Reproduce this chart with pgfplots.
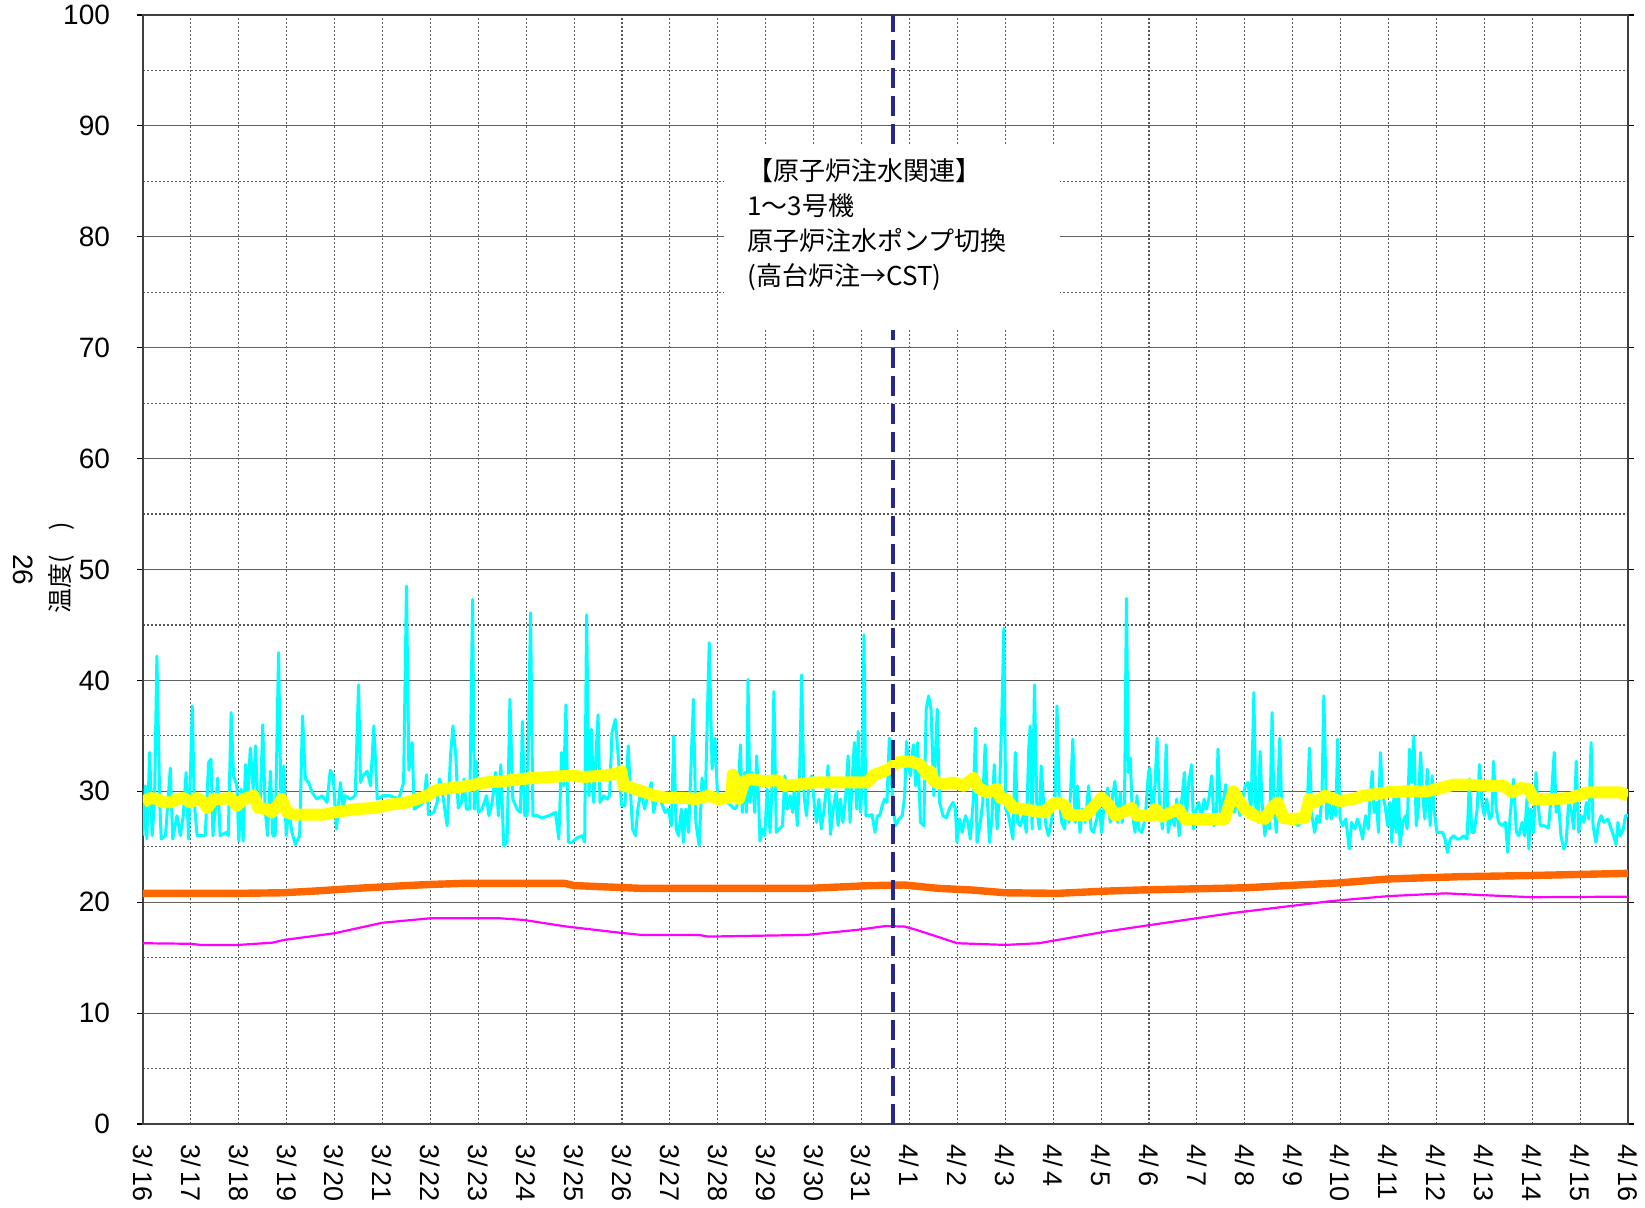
\documentclass[border=0pt]{standalone}
\usepackage{fontspec}
\setmainfont{Liberation Sans}
\newfontfamily\cjk{Noto Sans CJK JP}
\usepackage{pgfplots}
\pgfplotsset{compat=1.18}
\definecolor{cyanL}{RGB}{0,255,255}
\definecolor{yel}{RGB}{255,255,0}
\definecolor{ora}{RGB}{255,102,0}
\definecolor{mag}{RGB}{255,0,255}
\definecolor{navyD}{RGB}{40,40,140}
\begin{document}
\begin{tikzpicture}
\useasboundingbox (0,0) rectangle (822.5pt,603.5pt);
\begin{axis}[
 at={(71.5pt,41.5pt)}, anchor=south west,
 scale only axis, width=742.5pt, height=554.5pt,
 xmin=0,xmax=31,ymin=0,ymax=100,
 xtick={0,...,31},
 xticklabels={3/\,16,3/\,17,3/\,18,3/\,19,3/\,20,3/\,21,3/\,22,3/\,23,3/\,24,3/\,25,3/\,26,3/\,27,3/\,28,3/\,29,3/\,30,3/\,31,4/\,1,4/\,2,4/\,3,4/\,4,4/\,5,4/\,6,4/\,7,4/\,8,4/\,9,4/\,10,4/\,11,4/\,12,4/\,13,4/\,14,4/\,15,4/\,16},
 minor xtick={1,...,30},
 ytick={0,10,...,100},
 minor ytick={5,15,...,95},
 ymajorgrids, yminorgrids, xminorgrids,
 major grid style={black!62, line width=0.6pt},
 minor grid style={black!65, line width=0.55pt, dash pattern=on 1pt off 1pt},
 axis line style={black!75, line width=0.8pt},
 tick align=outside,
 xtick style={draw=none},
 ytick style={black, line width=0.6pt},
 major tick length=3pt,
 minor tick length=0pt,
 /pgf/number format/assume math mode=true,
 yticklabel style={font=\fontsize{14}{14}\selectfont},
 yticklabel shift=10pt,
 xticklabel style={font=\fontsize{13.5}{13.5}\selectfont, rotate=-90, anchor=west},
 xticklabel shift=3.5pt,
]
\addplot[cyanL, line width=1.5pt, line join=round] coordinates {
(0,26.0)(0.05,30.5)(0.08,25.7)(0.14,33.5)(0.19,26.0)(0.24,29.0)(0.29,42.2)(0.35,29.0)(0.38,25.7)(0.47,26.0)(0.57,32.1)(0.62,25.7)(0.71,27.8)(0.78,26.0)(0.84,27.8)(0.90,31.7)(0.95,25.7)(1.03,37.7)(1.07,29.0)(1.13,26.0)(1.30,26.0)(1.37,32.6)(1.42,32.9)(1.46,26.0)(1.51,28.4)(1.56,31.2)(1.61,26.0)(1.74,26.3)(1.78,26.0)(1.84,37.1)(1.89,31.4)(1.96,30.5)(2.00,25.5)(2.05,30.2)(2.09,25.5)(2.14,32.4)(2.19,29.6)(2.24,33.9)(2.30,30.2)(2.35,34.1)(2.39,29.3)(2.45,29.0)(2.50,36.0)(2.55,28.4)(2.60,26.0)(2.66,31.8)(2.71,26.0)(2.76,26.0)(2.83,42.5)(2.88,29.0)(2.94,32.3)(2.99,26.0)(3.04,28.4)(3.11,26.3)(3.18,25.2)(3.27,26.0)(3.33,36.8)(3.39,31.1)(3.46,30.8)(3.53,29.9)(3.63,29.3)(3.74,29.6)(3.84,29.0)(3.91,31.9)(3.97,31.4)(4.04,26.6)(4.12,30.8)(4.18,28.4)(4.22,29.6)(4.33,29.3)(4.43,29.6)(4.50,39.6)(4.54,30.8)(4.59,31.4)(4.68,31.8)(4.75,30.5)(4.82,35.9)(4.89,29.3)(5.02,29.6)(5.16,29.6)(5.34,29.3)(5.44,30.8)(5.50,48.5)(5.55,31.9)(5.62,34.4)(5.66,28.4)(5.76,28.7)(5.86,29.0)(5.92,31.5)(5.96,27.9)(6.07,28.1)(6.14,29.0)(6.19,31.1)
(6.22,30.8)(6.28,29.0)(6.35,26.9)(6.42,33.2)(6.47,35.9)(6.53,33.2)(6.58,28.5)(6.65,29.0)(6.70,31.1)(6.75,28.4)(6.82,28.4)(6.88,47.3)(6.92,28.4)(6.96,32.7)(7.00,28.1)(7.08,28.4)(7.17,29.6)(7.22,27.8)(7.29,29.0)(7.36,31.7)(7.42,27.8)(7.47,32.4)(7.53,25.1)(7.60,25.4)(7.66,38.3)(7.72,29.3)(7.81,28.4)(7.88,28.1)(7.92,36.3)(7.97,27.8)(8.02,27.8)(8.09,46.1)(8.14,27.8)(8.23,27.8)(8.33,27.6)(8.47,27.8)(8.61,28.1)(8.68,25.7)(8.74,33.5)(8.78,30.5)(8.83,37.8)(8.88,25.4)(8.96,25.4)(9.06,25.8)(9.17,26.0)(9.22,25.4)(9.26,45.9)(9.31,29.6)(9.36,35.6)(9.41,29.0)(9.46,33.5)(9.50,36.9)(9.54,29.0)(9.62,29.6)(9.69,29.3)(9.74,29.6)(9.79,35.3)(9.86,36.5)(9.92,33.2)(9.99,28.7)(10.06,28.7)(10.13,34.1)(10.17,30.5)(10.22,26.6)(10.28,26.0)(10.33,28.4)(10.40,30.2)(10.47,28.4)(10.54,29.6)(10.61,30.8)(10.66,28.1)(10.73,29.6)(10.82,29.0)(10.90,28.1)(10.97,28.4)(11.03,26.9)(11.08,35.0)(11.13,26.6)(11.18,26.0)(11.24,28.4)(11.28,25.4)(11.33,28.4)(11.39,26.3)(11.49,38.3)(11.54,27.2)(11.61,25.1)(11.67,31.2)(11.74,29.6)(11.82,43.4)(11.88,32.0)(11.94,34.8)(12.00,29.0)(12.08,29.3)(12.19,29.0)(12.28,28.7)(12.35,28.4)
(12.38,28.5)(12.42,29.0)(12.47,34.2)(12.51,28.1)(12.56,31.7)(12.60,28.1)(12.63,40.1)(12.67,29.0)(12.72,31.7)(12.77,28.1)(12.81,33.2)(12.84,30.5)(12.88,25.5)(12.93,26.6)(12.98,26.0)(13.03,30.2)(13.09,26.3)(13.13,30.2)(13.17,39.0)(13.22,26.3)(13.28,26.6)(13.35,26.9)(13.40,31.4)(13.45,28.4)(13.51,29.6)(13.56,28.1)(13.60,30.5)(13.66,26.9)(13.71,32.0)(13.75,40.5)(13.80,29.6)(13.85,27.8)(13.90,30.5)(13.96,31.4)(14.01,29.0)(14.06,27.2)(14.11,29.3)(14.16,26.6)(14.22,28.4)(14.27,30.5)(14.30,32.3)(14.35,26.1)(14.41,28.4)(14.47,30.0)(14.51,26.9)(14.56,29.3)(14.61,27.2)(14.67,29.6)(14.72,33.2)(14.76,27.2)(14.81,31.4)(14.85,34.4)(14.90,28.4)(14.93,35.4)(14.98,28.1)(15.02,31.4)(15.05,44.1)(15.09,27.8)(15.15,27.8)(15.22,27.9)(15.28,26.3)(15.33,27.8)(15.38,27.8)(15.43,28.7)(15.48,29.3)(15.53,29.0)(15.58,34.8)(15.62,31.1)(15.67,28.1)(15.71,26.9)(15.78,27.5)(15.85,27.8)(15.90,29.6)(15.94,34.5)(15.99,32.0)(16.02,31.4)(16.08,34.2)(16.13,30.5)(16.17,34.4)(16.23,27.2)(16.30,26.9)(16.35,37.4)(16.40,38.6)(16.45,37.4)(16.51,29.6)(16.58,37.4)(16.63,29.0)(16.70,27.8)(16.77,27.6)(16.84,28.5)(16.91,29.0)(16.96,28.4)(16.99,25.4)(17.05,27.5)(17.10,26.3)(17.17,27.8)(17.22,27.2)(17.27,25.7)(17.33,29.0)(17.38,35.7)(17.41,25.4)(17.48,27.2)(17.53,29.0)(17.58,34.2)(17.63,29.0)(17.67,25.4)(17.72,27.5)(17.77,32.4)(17.83,26.6)(17.88,29.9)(17.93,37.1)(17.97,44.7)(18.01,28.4)(18.07,27.8)(18.16,25.7)(18.21,33.5)(18.26,27.2)(18.31,26.9)(18.38,27.8)(18.44,26.3)(18.49,33.8)
(18.52,35.9)(18.56,26.6)(18.61,39.6)(18.66,28.4)(18.71,26.6)(18.75,32.3)(18.80,29.0)(18.85,26.9)(18.90,26.0)(18.96,27.2)(19.01,29.0)(19.04,29.3)(19.08,37.7)(19.13,29.0)(19.18,27.2)(19.24,26.6)(19.28,29.0)(19.33,27.2)(19.38,31.4)(19.41,34.7)(19.46,27.2)(19.51,30.5)(19.56,26.3)(19.61,28.4)(19.67,27.2)(19.74,30.5)(19.79,26.6)(19.84,26.3)(19.91,27.5)(19.96,29.0)(20.01,26.3)(20.07,29.0)(20.14,30.3)(20.19,27.2)(20.24,29.6)(20.29,30.9)(20.35,27.2)(20.40,29.9)(20.44,27.2)(20.49,29.0)(20.53,47.4)(20.57,31.7)(20.61,33.0)(20.65,28.1)(20.71,26.3)(20.75,29.6)(20.79,26.6)(20.85,26.3)(20.92,27.5)(20.99,31.7)(21.02,32.1)(21.07,27.8)(21.13,30.8)(21.17,34.8)(21.22,29.0)(21.28,26.6)(21.32,29.0)(21.36,34.2)(21.40,26.3)(21.47,28.1)(21.53,26.9)(21.58,29.3)(21.63,26.0)(21.68,29.0)(21.74,31.7)(21.78,27.5)(21.83,30.8)(21.89,32.4)(21.93,26.6)(21.99,28.4)(22.04,29.0)(22.10,27.2)(22.15,29.3)(22.20,28.4)(22.25,29.3)(22.31,31.4)(22.36,26.9)(22.41,28.1)(22.44,33.8)(22.50,27.5)(22.55,29.0)(22.60,30.6)(22.65,27.2)(22.71,29.3)(22.78,28.1)(22.85,29.0)(22.90,27.8)(22.97,29.6)(23.01,30.5)(23.07,30.8)(23.13,28.1)(23.19,38.9)(23.23,28.4)(23.28,27.2)(23.32,33.6)(23.36,29.0)(23.42,26.0)(23.47,28.4)(23.52,26.6)(23.57,37.1)(23.61,28.4)(23.66,26.3)(23.73,34.8)(23.78,27.2)(23.83,28.1)(23.90,27.2)(23.97,27.8)(24.04,27.2)(24.11,26.9)(24.18,27.2)(24.25,27.8)(24.31,29.3)(24.35,33.9)(24.40,27.8)(24.46,26.3)(24.51,27.8)(24.56,27.2)(24.61,29.3)(24.65,38.6)
(24.71,27.5)(24.76,29.0)(24.81,27.5)(24.86,29.0)(24.90,27.8)(24.94,34.7)(24.99,27.5)(25.04,26.9)(25.11,27.5)(25.18,24.8)(25.23,27.2)(25.30,26.6)(25.35,27.5)(25.40,26.9)(25.46,25.7)(25.52,27.8)(25.58,26.6)(25.61,29.0)(25.66,31.8)(25.70,28.1)(25.75,29.0)(25.79,26.3)(25.83,33.5)(25.88,29.6)(25.93,28.7)(25.98,26.9)(26.03,29.0)(26.07,25.4)(26.12,30.2)(26.16,26.3)(26.21,30.2)(26.24,25.1)(26.30,27.2)(26.35,27.8)(26.39,26.6)(26.44,33.8)(26.49,30.8)(26.53,35.0)(26.58,26.9)(26.62,28.4)(26.67,33.5)(26.72,29.3)(26.76,27.5)(26.81,32.0)(26.87,26.9)(26.91,31.4)(26.95,28.4)(27.01,26.3)(27.08,26.3)(27.13,26.3)(27.18,25.7)(27.23,24.5)(27.29,25.7)(27.36,26.0)(27.43,25.7)(27.50,25.7)(27.57,26.0)(27.64,25.7)(27.69,31.1)(27.74,26.3)(27.79,26.3)(27.85,28.4)(27.90,32.4)(27.95,29.0)(28.00,27.8)(28.05,29.3)(28.11,27.5)(28.16,27.8)(28.19,32.7)(28.25,28.4)(28.30,27.2)(28.37,26.9)(28.44,27.2)(28.49,24.5)(28.54,27.8)(28.61,31.1)(28.67,26.3)(28.72,26.0)(28.79,27.2)(28.84,26.0)(28.89,29.3)(28.93,24.8)(28.97,28.4)(29.03,26.3)(29.08,31.7)(29.11,29.3)(29.17,26.9)(29.25,26.9)(29.34,26.7)(29.41,30.2)(29.46,33.5)(29.50,28.1)(29.55,29.0)(29.60,26.0)(29.66,24.8)(29.71,25.4)(29.76,29.0)(29.81,28.4)(29.87,26.6)(29.92,32.7)(29.97,26.3)(30.02,27.8)(30.08,27.2)(30.13,29.0)(30.18,27.5)(30.23,34.4)(30.27,26.9)(30.33,25.4)(30.39,27.2)(30.44,27.8)(30.50,27.2)(30.58,27.5)(30.65,26.6)(30.70,26.0)(30.75,25.2)(30.79,27.2)(30.84,26.0)(30.90,26.6)(30.95,27.8)(31.00,27.8)
};
\addplot[yel, line width=6pt, line join=round] coordinates {
(0,29.0)(0.15,29.4)(0.29,29.3)(0.43,29.0)(0.57,29.0)(0.71,29.3)(0.85,29.4)(0.99,29.0)(1.13,29.4)(1.27,29.0)(1.34,28.5)(1.48,29.3)(1.61,29.3)(1.82,29.4)(1.96,28.7)(2.10,29.3)(2.31,29.6)(2.41,28.5)(2.59,28.4)(2.69,28.1)(2.80,28.7)(2.90,29.3)(3.01,28.1)(3.15,27.9)(3.42,27.9)(3.77,27.9)(4.12,28.2)(4.47,28.4)(4.82,28.5)(5.16,28.8)(5.51,29.0)(5.72,29.3)(5.93,29.6)(6.07,30.0)(6.21,30.2)(6.46,30.3)(6.81,30.5)(7.15,30.8)(7.50,30.9)(7.85,31.1)(8.19,31.2)(8.54,31.3)(8.89,31.4)(9.24,31.3)(9.58,31.4)(9.90,31.6)(9.99,31.8)(10.03,30.5)(10.14,30.4)(10.28,30.2)(10.49,29.9)(10.69,29.6)(10.97,29.4)(11.32,29.4)(11.53,29.3)(11.81,29.6)(12.01,29.3)(12.22,29.4)(12.29,29.9)(12.31,31.5)(12.36,31.0)(12.44,29.3)(12.55,30.9)(12.69,31.1)(12.97,30.9)(13.24,31.0)(13.38,30.5)(13.66,30.6)(14.01,30.8)(14.35,30.8)(14.70,30.8)(15.12,30.8)(15.26,31.5)(15.47,31.8)(15.60,32.1)(15.74,32.6)(16.02,32.7)(16.23,32.4)(16.37,31.5)(16.44,31.8)(16.51,30.9)(16.72,30.6)(16.92,30.8)(17.13,30.5)(17.34,31.2)(17.44,30.3)(17.62,29.9)(17.83,30.2)(17.90,29.4)(18.03,29.3)(18.17,28.5)(18.38,28.4)(18.63,28.2)(18.83,28.1)(18.97,28.8)(19.11,29.0)(19.25,28.7)(19.32,27.9)(19.67,27.8)(20.01,29.4)(20.15,28.8)(20.30,27.8)(20.64,28.5)(20.75,27.8)(21.06,27.8)(21.13,28.4)(21.26,27.7)(21.61,28.4)(21.75,27.5)(22.24,27.5)(22.58,27.5)(22.69,29.0)(22.76,30.0)(22.86,29.3)(23.00,28.4)(23.21,27.8)(23.42,27.5)(23.56,28.5)(23.69,29.0)(23.80,27.6)(23.97,27.5)(24.25,27.6)(24.35,29.3)(24.46,29.0)(24.67,29.6)(24.99,29.1)(25.26,29.3)(25.47,29.6)(25.96,29.9)(26.38,30.0)(26.80,30.0)(27.01,30.2)(27.36,30.6)(27.71,30.6)(28.05,30.5)(28.40,30.5)(28.58,29.9)(28.75,30.3)(28.93,30.2)(29.03,29.3)(29.45,29.3)(29.80,29.4)(30.15,29.9)(30.50,29.9)(30.84,29.9)(31.00,29.6)
};
\addplot[ora, line width=3.7pt, line join=round] coordinates {
(0,20.8)(2.0,20.8)(2.9,20.85)(3.56,21.0)(4.46,21.25)(5.5,21.5)(6.0,21.6)(6.7,21.7)(8.8,21.7)(9.0,21.5)(10.4,21.25)(13.9,21.25)(15.2,21.5)(15.9,21.55)(16.6,21.25)(17.3,21.1)(18.0,20.85)(19.1,20.8)(20.1,21.0)(20.8,21.1)(23.0,21.3)(25.0,21.75)(26.0,22.1)(27.5,22.3)(28.9,22.4)(31.0,22.6)
};
\addplot[mag, line width=1.1pt, line join=round] coordinates {
(0,16.3)(1.0,16.25)(1.2,16.15)(2.0,16.15)(2.7,16.35)(2.95,16.6)(4.0,17.2)(5.0,18.15)(6.0,18.55)(7.45,18.55)(7.95,18.4)(8.85,17.8)(9.95,17.25)(10.4,17.05)(11.6,17.05)(11.8,16.9)(13.85,17.05)(14.9,17.5)(15.5,17.85)(15.9,17.8)(16.15,17.5)(17.0,16.3)(18.0,16.15)(18.7,16.3)(19.1,16.6)(20.1,17.35)(20.8,17.8)(22.7,19.0)(24.8,20.1)(26.0,20.55)(27.2,20.8)(27.9,20.65)(29.0,20.45)(31.0,20.5)
};
\draw[navyD, line width=2pt, dash pattern=on 10pt off 4pt] (axis cs:15.66,0) -- (axis cs:15.66,100);
\fill[white] (axis cs:12.13,71.6) rectangle (axis cs:19.14,88.4);
\node[anchor=west, align=left, inner sep=0pt, font=\cjk\fontsize{13}{17.5}\selectfont] at (axis cs:12.61,81.06) {【原子炉注水関連】\\1～3号機\\原子炉注水ポンプ切換\\(高台炉注→CST)};
\end{axis}
\node[rotate=90, font=\cjk\fontsize{12.5}{12.5}\selectfont] at (30.5pt,319.5pt) {温度(　)};
\node[rotate=-90, font=\fontsize{14}{14}\selectfont] at (11.5pt,318.5pt) {26};
\end{tikzpicture}
\end{document}
